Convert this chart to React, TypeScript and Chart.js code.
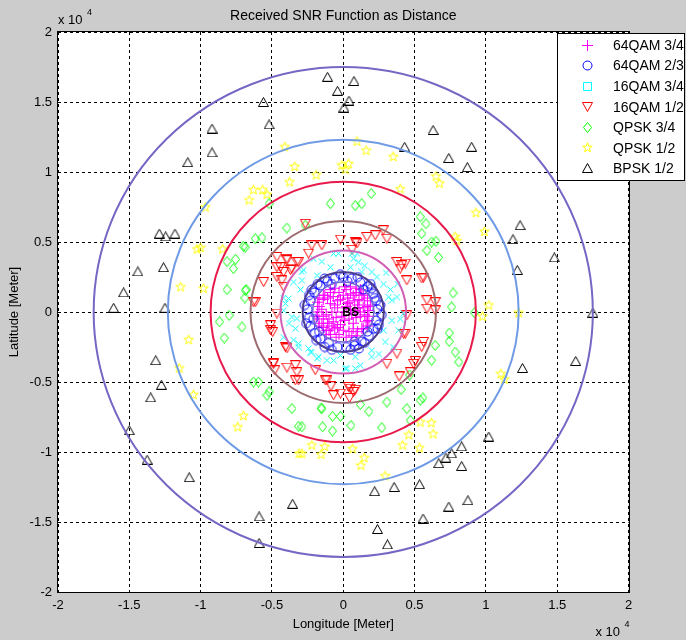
import React, { useEffect, useRef } from 'react';
import { Chart, registerables } from 'chart.js';

Chart.register(...registerables);

// All coordinates in units of 10^4 metres
const qam64_34: number[][] = [
  [0.0, 0.0], [0.05, 0.02], [-0.04, 0.03], [0.1, 0.05], [-0.09, 0.06], [0.12, -0.03], [-0.12, -0.02],
  [0.03, 0.1], [-0.02, -0.09], [0.07, -0.08], [-0.07, -0.07], [0.15, 0.08], [-0.14, 0.09], [0.16, -0.07],
  [-0.15, -0.08], [0.02, 0.16], [-0.03, -0.16], [0.09, 0.14], [-0.09, 0.14], [0.1, -0.14], [-0.1, -0.13],
  [0.18, 0.01], [-0.18, 0.0], [0.05, 0.18], [-0.06, 0.17], [0.06, -0.17], [-0.05, -0.18], [0.13, 0.12],
  [-0.13, 0.12], [0.13, -0.12], [-0.12, -0.13], [0.17, 0.04], [-0.17, 0.04], [0.17, -0.03], [-0.17, -0.05],
  [0.0, 0.12], [0.0, -0.13], [0.08, 0.01], [-0.08, 0.0], [0.04, 0.07], [-0.04, 0.08], [0.04, -0.05],
  [-0.05, -0.04], [0.11, 0.09], [-0.11, 0.1], [0.12, 0.0], [0.19, 0.05], [-0.19, -0.03], [0.01, 0.18],
  [0.02, -0.18], [0.14, 0.03], [-0.14, -0.03], [0.07, 0.12], [-0.07, 0.11], [0.07, -0.12], [-0.06, -0.12],
  [0.18, -0.06], [-0.18, 0.07], [0.14, 0.13], [-0.14, 0.12], [0.14, -0.12], [-0.14, -0.11], [0.09, 0.17],
  [-0.09, 0.16], [0.09, -0.17], [-0.09, -0.16], [0.02, 0.04], [-0.01, -0.03], [0.09, -0.04], [-0.1, -0.05],
  [0.05, 0.13], [-0.03, 0.14], [0.04, -0.14], [-0.04, -0.11], [0.17, 0.1], [-0.17, -0.1], [0.17, -0.1],
  [-0.17, 0.1], [0.03, 0.06], [-0.06, 0.05], [0.11, 0.03], [-0.11, -0.08], [0.06, -0.02], [-0.02, 0.09],
  [0.15, -0.02], [-0.15, 0.02], [0.01, -0.06], [0.12, 0.16], [-0.12, -0.16], [0.08, 0.08], [-0.08, -0.1],
];

const qam64_23: number[][] = [
  [0.24, 0.02], [0.23, 0.08], [0.21, 0.13], [0.17, 0.18], [0.12, 0.21], [0.06, 0.24], [0.0, 0.25],
  [-0.06, 0.24], [-0.11, 0.22], [-0.16, 0.19], [-0.2, 0.14], [-0.23, 0.08], [-0.25, 0.02], [-0.24, -0.04],
  [-0.23, -0.1], [-0.2, -0.15], [-0.16, -0.19], [-0.1, -0.22], [-0.04, -0.25], [0.02, -0.25], [0.08, -0.24],
  [0.13, -0.21], [0.18, -0.17], [0.21, -0.12], [0.23, -0.06], [0.26, 0.05], [0.2, 0.17], [0.1, 0.25],
  [-0.02, 0.27], [-0.13, 0.24], [-0.22, 0.16], [-0.27, 0.05], [-0.26, -0.08], [-0.19, -0.2], [-0.08, -0.27],
  [0.05, -0.27], [0.15, -0.22], [0.24, -0.12], [0.27, -0.02], [0.22, 0.1], [-0.18, 0.2], [-0.21, -0.05],
  [0.11, -0.26], [-0.13, -0.25], [0.19, 0.2], [-0.24, 0.12], [0.25, -0.09], [0.03, 0.22], [-0.08, 0.2],
  [0.14, 0.16], [-0.17, -0.14], [0.17, -0.14], [0.08, -0.21],
];

const qam16_34: number[][] = [
  [-0.033, 0.417], [0.072, 0.38], [0.107, 0.357], [0.096, 0.417], [0.05, 0.32], [-0.09, 0.32], [-0.29, 0.286],
  [-0.184, 0.26], [-0.348, 0.214], [-0.383, 0.096], [-0.418, 0.012], [-0.36, -0.036], [-0.336, -0.119],
  [-0.418, -0.18], [-0.313, -0.226], [-0.243, -0.26], [-0.22, -0.286], [-0.173, -0.32], [-0.114, -0.345],
  [-0.02, -0.31], [0.084, -0.32], [0.026, -0.404], [0.2, -0.32], [0.294, -0.214], [0.283, -0.13],
  [0.388, -0.13], [0.341, 0.084], [0.376, 0.107], [0.423, -0.011], [0.236, 0.25], [0.2, 0.286], [0.283, 0.2],
  [-0.208, 0.38], [-0.068, 0.417], [0.061, 0.417], [0.13, 0.286], [0.318, 0.107], [-0.278, 0.3],
  [-0.29, 0.226], [0.2, -0.274], [0.084, -0.404], [0.014, -0.404], [-0.068, -0.345], [-0.184, -0.333],
  [-0.23, -0.286], [0.341, -0.06], [-0.406, 0.06], [-0.325, -0.047], [-0.348, -0.2], [-0.313, -0.25],
  [0.33, 0.16], [0.38, 0.2], [-0.3, 0.16], [0.25, -0.3], [0.35, -0.25], [-0.38, -0.08], [0.15, 0.33],
  [-0.15, 0.36], [0.4, -0.05], [0.3, 0.28], [-0.42, 0.1], [0.12, -0.38],
];

const qam16_12: number[][] = [
  [-0.266, 0.63], [-0.02, 0.517], [0.084, 0.5], [0.166, 0.536], [0.224, 0.548], [0.28, 0.584], [0.306, 0.524],
  [-0.22, 0.476], [-0.15, 0.476], [-0.243, 0.417], [-0.465, 0.393], [-0.395, 0.37], [-0.313, 0.357],
  [-0.465, 0.32], [-0.418, 0.286], [-0.36, 0.31], [-0.43, 0.226], [-0.558, 0.214], [-0.617, 0.07],
  [0.376, 0.357], [0.4, 0.31], [0.435, 0.346], [0.446, 0.226], [0.55, 0.24], [0.587, 0.084], [0.645, 0.07],
  [0.587, 0.024], [-0.51, -0.095], [-0.51, -0.13], [0.446, -0.024], [0.435, -0.155], [0.55, -0.25],
  [0.376, -0.297], [0.493, -0.37], [0.306, -0.37], [-0.406, -0.25], [-0.488, -0.37], [-0.336, -0.38],
  [-0.325, -0.43], [-0.313, -0.488], [-0.114, -0.488], [-0.02, -0.583], [0.037, -0.536], [0.072, -0.571],
  [-0.068, -0.595], [0.096, 0.49], [0.061, 0.445], [0.41, 0.334], [0.563, 0.246], [0.645, 0.012],
  [0.423, -0.155], [0.563, -0.214], [0.505, -0.35], [0.47, -0.43], [0.392, -0.46], [0.05, -0.547],
  [0.084, -0.555], [0.044, -0.614], [-0.126, -0.488], [-0.086, -0.53], [-0.196, -0.416], [-0.465, -0.011],
  [-0.495, -0.143], [-0.395, -0.26], [-0.49, -0.364], [-0.48, -0.416], [-0.395, -0.397], [-0.336, -0.488],
  [-0.395, 0.38], [-0.44, 0.32], [-0.37, 0.3], [-0.325, 0.357], [-0.418, 0.18], [-0.465, 0.25], [-0.63, 0.07],
];

const qpsk34: number[][] = [
  [-0.09, 0.774], [0.084, 0.76], [0.13, 0.774], [0.196, 0.846], [-0.266, 0.62], [-0.617, 0.524], [-0.57, 0.53],
  [-0.687, 0.464], [0.54, 0.68], [0.55, 0.56], [0.62, 0.5], [0.587, 0.44], [0.668, 0.39], [-0.687, 0.155],
  [-0.71, -0.107], [0.62, -0.345], [-0.63, -0.5], [-0.52, -0.57], [-0.36, -0.69], [-0.15, -0.69], [0.18, -0.71],
  [0.306, -0.643], [0.54, -0.63], [-0.52, 0.774], [-0.395, 0.6], [-0.7, 0.47], [-0.815, 0.36], [-0.755, 0.376],
  [-0.77, 0.31], [-0.815, 0.16], [-0.68, 0.16], [-0.69, 0.1], [0.58, 0.63], [0.65, 0.505], [0.77, 0.136],
  [0.76, 0.036], [-0.867, -0.07], [-0.8, -0.024], [-0.834, -0.186], [-0.594, -0.5], [-0.535, -0.595],
  [-0.313, -0.816], [0.743, -0.15], [0.743, -0.21], [0.645, -0.238], [0.785, -0.286], [0.81, -0.357],
  [0.465, -0.45], [0.406, -0.554], [0.558, -0.614], [0.12, -0.66], [0.446, -0.69], [-0.156, -0.686],
  [-0.075, -0.745], [-0.02, -0.745], [0.054, -0.81], [0.47, -0.774], [0.27, -0.826], [-0.145, -0.82],
  [-0.075, -0.85], [-0.29, -0.82], [0.92, -0.005],
];

const qpsk12: number[][] = [
  [-0.41, 1.18], [-0.34, 1.04], [-0.376, 0.93], [-0.63, 0.874], [-0.66, 0.8], [-0.565, 0.874], [-0.535, 0.84],
  [-0.967, 0.75], [-1.025, 0.45], [-1.0, 0.46], [-0.846, 0.45], [-1.14, 0.18], [-0.98, 0.17], [0.096, 1.22],
  [0.16, 1.155], [0.35, 1.11], [-0.01, 1.05], [0.037, 1.06], [0.014, 1.02], [-0.19, 0.98], [0.65, 0.97],
  [0.675, 0.92], [0.4, 0.88], [0.93, 0.71], [0.99, 0.576], [0.785, 0.54], [0.797, 0.51], [1.02, 0.05],
  [0.976, -0.03], [1.23, -0.005], [1.105, -0.44], [1.13, -0.48], [-1.084, -0.197], [-1.15, -0.4],
  [-1.05, -0.59], [-0.7, -0.74], [-0.74, -0.82], [-0.31, -1.01], [0.54, -0.786], [0.617, -0.79],
  [0.63, -0.87], [0.46, -0.876], [0.416, -0.95], [0.535, -0.97], [0.066, -0.976], [-0.22, -0.95],
  [-0.13, -0.96], [-0.156, -1.016], [-0.29, -1.01], [0.147, -1.04], [0.124, -1.095], [0.294, -1.17],
];

const bpsk12: number[][] = [
  [-0.56, 1.5], [-0.52, 1.34], [-0.92, 1.31], [-0.92, 1.14], [-1.09, 1.07], [-1.29, 0.56], [-1.245, 0.54],
  [-1.18, 0.56], [-1.26, 0.32], [-1.44, 0.29], [-1.54, 0.14], [-1.61, 0.03], [-1.25, 0.03], [-0.11, 1.68],
  [0.075, 1.65], [-0.04, 1.58], [0.04, 1.51], [0.005, 1.46], [0.63, 1.3], [0.43, 1.18], [0.9, 1.18],
  [0.74, 1.1], [0.87, 1.035], [1.24, 0.62], [1.19, 0.52], [1.22, 0.3], [1.48, 0.39], [1.75, -0.005],
  [1.63, -0.35], [-1.315, -0.345], [-1.275, -0.52], [-1.35, -0.61], [-1.5, -0.845], [-1.375, -1.055],
  [-1.08, -1.18], [-0.355, -1.37], [-0.59, -1.46], [-0.59, -1.65], [1.257, -0.4], [1.02, -0.89],
  [0.83, -0.96], [0.76, -1.01], [0.72, -1.04], [0.67, -1.08], [0.83, -1.1], [0.535, -1.23], [0.357, -1.25],
  [0.22, -1.28], [0.874, -1.345], [0.74, -1.39], [0.56, -1.475], [0.24, -1.55], [0.31, -1.66],
];

const seriesLabels = ['64QAM 3/4', '64QAM 2/3', '16QAM 3/4', '16QAM 1/2', 'QPSK 3/4', 'QPSK 1/2', 'BPSK 1/2'];
const seriesColors = ['#ff00ff', '#0000ff', '#00ffff', '#ff0000', '#00ff00', '#ffff00', '#000000'];
const seriesMarkers = ['plus', 'circle', 'xmark', 'tdown', 'diamond', 'star', 'tup'];
const legendMarkers = ['plus', 'circle', 'square', 'tdown', 'diamond', 'star', 'tup'];

const circleRadii = [1.75, 1.23, 0.93, 0.65, 0.44, 0.285, 0.215];
const circleColors = ['#7766c4', '#6f9be6', '#e8194b', '#9c6c70', '#d15fb5', '#4a3b8e', '#7467d0'];
const circleWidths = [2, 2, 2, 2, 2, 2, 1.5];

const tickLabels = ['-2', '-1.5', '-1', '-0.5', '0', '0.5', '1', '1.5', '2'];

const FONT = "'Liberation Sans', Arial, sans-serif";

const markerDims: Record<string, [number, number]> = {
  plus: [11, 11], circle: [11, 11], xmark: [7, 7], square: [9, 9],
  tdown: [11, 10], diamond: [9, 11], star: [11, 11], tup: [11, 10],
};

// draws a marker path into g with its box's top-left at (ox, oy)
function traceMarker(g: CanvasRenderingContext2D, kind: string, ox: number, oy: number) {
  g.beginPath();
  if (kind === 'plus') {
    g.moveTo(ox + 5.5, oy); g.lineTo(ox + 5.5, oy + 11); g.moveTo(ox, oy + 5.5); g.lineTo(ox + 11, oy + 5.5);
  } else if (kind === 'circle') {
    g.arc(ox + 5.5, oy + 5.5, 4.5, 0, Math.PI * 2);
  } else if (kind === 'xmark') {
    g.moveTo(ox + 0.5, oy + 0.5); g.lineTo(ox + 6.5, oy + 6.5); g.moveTo(ox + 6.5, oy + 0.5); g.lineTo(ox + 0.5, oy + 6.5);
  } else if (kind === 'square') {
    g.rect(ox + 0.5, oy + 0.5, 8, 8);
  } else if (kind === 'tdown') {
    g.moveTo(ox + 0.5, oy + 0.5); g.lineTo(ox + 10.5, oy + 0.5); g.lineTo(ox + 5.5, oy + 9.5); g.closePath();
  } else if (kind === 'tup') {
    g.moveTo(ox + 5.5, oy + 0.5); g.lineTo(ox + 10.5, oy + 9.5); g.lineTo(ox + 0.5, oy + 9.5); g.closePath();
  } else if (kind === 'diamond') {
    g.moveTo(ox + 4.5, oy + 0.5); g.lineTo(ox + 8.5, oy + 5.5); g.lineTo(ox + 4.5, oy + 10.5); g.lineTo(ox + 0.5, oy + 5.5); g.closePath();
  } else if (kind === 'star') {
    for (let i = 0; i < 10; i++) {
      const r = i % 2 === 0 ? 5 : 2.1;
      const a = -Math.PI / 2 + (i * Math.PI) / 5;
      const px = ox + 5.5 + r * Math.cos(a);
      const py = oy + 5.8 + r * Math.sin(a);
      if (i === 0) g.moveTo(px, py); else g.lineTo(px, py);
    }
    g.closePath();
  }
}

function makeMarker(kind: string, color: string): HTMLCanvasElement {
  const [w, h] = markerDims[kind];
  const c = document.createElement('canvas');
  c.width = w;
  c.height = h;
  const g = c.getContext('2d')!;
  g.strokeStyle = color;
  g.lineWidth = 1;
  traceMarker(g, kind, 0, 0);
  g.stroke();
  return c;
}

const toPts = (a: number[][]) => a.map(([x, y]) => ({ x, y }));

export default function App() {
  const ref = useRef<HTMLCanvasElement | null>(null);

  useEffect(() => {
    document.body.style.margin = '0';
    const canvas = ref.current!;
    const allSeries = [qam64_34, qam64_23, qam16_34, qam16_12, qpsk34, qpsk12, bpsk12];
    const markers = seriesMarkers.map((m, i) => makeMarker(m, seriesColors[i]));

    const figPlugin = {
      id: 'figPlugin',
      beforeDraw(chart: any) {
        const { ctx, chartArea: a } = chart;
        ctx.save();
        ctx.fillStyle = '#cccccc';
        ctx.fillRect(0, 0, chart.width, chart.height);
        ctx.fillStyle = '#ffffff';
        ctx.fillRect(a.left, a.top, a.right - a.left, a.bottom - a.top);
        ctx.restore();
      },
      afterDatasetsDraw(chart: any) {
        const { ctx, chartArea: a } = chart;
        const xs = chart.scales.x;
        const ys = chart.scales.y;
        const cx = xs.getPixelForValue(0);
        const cy = ys.getPixelForValue(0);
        ctx.save();
        ctx.beginPath();
        ctx.rect(a.left, a.top, a.right - a.left, a.bottom - a.top);
        ctx.clip();
        circleRadii.forEach((r, i) => {
          const rx = Math.abs(xs.getPixelForValue(r) - cx);
          const ry = Math.abs(ys.getPixelForValue(r) - cy);
          ctx.beginPath();
          ctx.ellipse(cx, cy, rx, ry, 0, 0, Math.PI * 2);
          ctx.strokeStyle = circleColors[i];
          ctx.lineWidth = circleWidths[i];
          ctx.stroke();
        });
        ctx.fillStyle = '#000';
        ctx.font = `bold 12px ${FONT}`;
        ctx.textAlign = 'left';
        ctx.textBaseline = 'middle';
        ctx.fillText('BS', cx - 1, cy + 1);
        ctx.restore();
      },
      afterDraw(chart: any) {
        const { ctx, chartArea: a } = chart;
        ctx.save();
        // axes frame
        ctx.strokeStyle = '#000';
        ctx.lineWidth = 1;
        ctx.setLineDash([]);
        ctx.strokeRect(Math.round(a.left) - 0.5, Math.round(a.top) - 0.5, Math.round(a.right - a.left) + 1, Math.round(a.bottom - a.top) + 1);
        // title
        ctx.fillStyle = '#000';
        ctx.textBaseline = 'middle';
        ctx.textAlign = 'center';
        ctx.font = `14px ${FONT}`;
        ctx.fillText('Received SNR Function as Distance', (a.left + a.right) / 2, 16);
        // exponent labels
        ctx.textAlign = 'left';
        ctx.font = `13px ${FONT}`;
        ctx.fillText('x 10', a.left, 20);
        ctx.font = `9px ${FONT}`;
        ctx.fillText('4', a.left + 29, 13);
        ctx.font = `13px ${FONT}`;
        ctx.fillText('x 10', a.right - 33, 632);
        ctx.font = `9px ${FONT}`;
        ctx.fillText('4', a.right - 4, 625);
        // legend
        const lx = Math.round(a.right - 71.5);
        const ly = Math.round(a.top + 1);
        const lw = 127;
        const lh = 147;
        ctx.fillStyle = '#ffffff';
        ctx.fillRect(lx, ly, lw, lh);
        ctx.strokeStyle = '#000';
        ctx.strokeRect(lx + 0.5, ly + 0.5, lw, lh);
        ctx.font = `14px ${FONT}`;
        seriesLabels.forEach((lab, i) => {
          const yy = ly + 12 + i * 20.55;
          const kind = legendMarkers[i];
          const [w, h] = markerDims[kind];
          ctx.strokeStyle = seriesColors[i];
          ctx.lineWidth = 1;
          traceMarker(ctx, kind, Math.round(lx + 30 - w / 2), Math.round(yy - h / 2));
          ctx.stroke();
          ctx.fillStyle = '#000';
          ctx.fillText(lab, lx + 56, yy + 1);
        });
        ctx.restore();
      },
    };

    const chart = new Chart(canvas, {
      type: 'scatter',
      data: {
        datasets: allSeries.map((s, i) => ({
          label: seriesLabels[i],
          data: toPts(s),
          pointStyle: markers[i] as any,
          pointRadius: 5,
          borderColor: seriesColors[i],
          backgroundColor: 'rgba(0,0,0,0)',
          order: i === 0 ? 1 : 0,
        })),
      },
      options: {
        animation: false,
        responsive: false,
        maintainAspectRatio: false,
        events: [],
        layout: { padding: { top: 32, right: 57.5, left: 0, bottom: 0 } },
        plugins: {
          legend: { display: false },
          title: { display: false },
          tooltip: { enabled: false },
        },
        scales: {
          x: {
            type: 'linear',
            min: -2,
            max: 2,
            afterFit: (s: any) => { s.height = 48; },
            ticks: {
              stepSize: 0.5,
              padding: 6,
              color: '#000',
              maxRotation: 0,
              autoSkip: false,
              font: { family: FONT, size: 13 },
              callback: (_v: any, i: number) => tickLabels[i],
            },
            grid: { color: '#000', lineWidth: 1, drawTicks: false },
            border: { display: false, dash: [3, 3] },
            title: {
              display: true,
              text: 'Longitude [Meter]',
              color: '#000',
              font: { family: FONT, size: 13 },
              padding: { top: 0, bottom: 8 },
            },
          },
          y: {
            type: 'linear',
            min: -2,
            max: 2,
            afterFit: (s: any) => { s.width = 58; },
            ticks: {
              stepSize: 0.5,
              padding: 6,
              color: '#000',
              autoSkip: false,
              font: { family: FONT, size: 13 },
              callback: (_v: any, i: number) => tickLabels[i],
            },
            grid: { color: '#000', lineWidth: 1, drawTicks: false },
            border: { display: false, dash: [3, 3] },
            title: {
              display: true,
              text: 'Latitude [Meter]',
              color: '#000',
              font: { family: FONT, size: 13 },
              padding: { top: 7, bottom: 0 },
            },
          },
        },
      } as any,
      plugins: [figPlugin],
    });
    return () => chart.destroy();
  }, []);

  return <canvas ref={ref} width={686} height={640} style={{ display: 'block' }} />;
}
